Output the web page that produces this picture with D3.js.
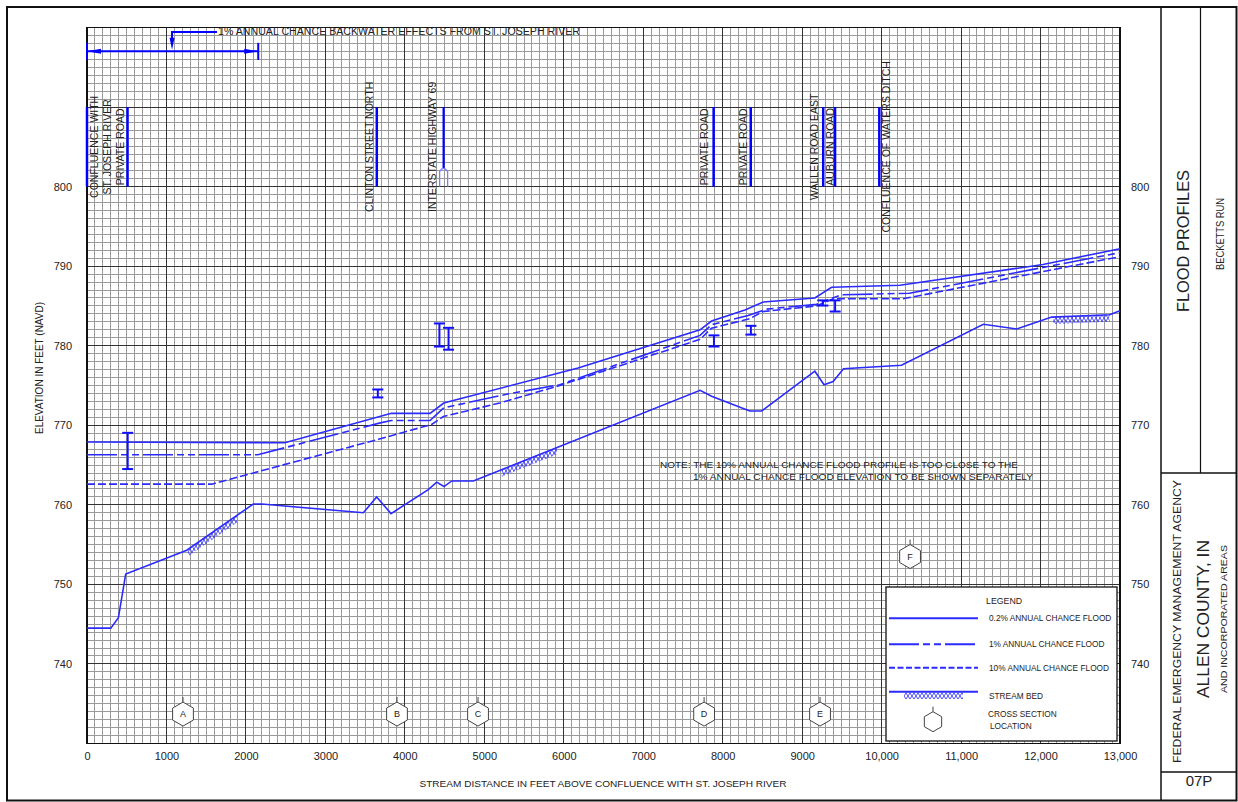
<!DOCTYPE html>
<html>
<head>
<meta charset="utf-8">
<script src="https://cdn.jsdelivr.net/npm/d3@7"></script>
<style>
  body { margin: 0; background: #fff; }
  text { font-family: "Liberation Sans", Arial, sans-serif; fill: #222; }
</style>
</head>
<body>
<div id="chart"></div>
<script>
// ---- data (distance in ft, elevation in ft NAVD) ----
const dist02 = [0, 2490, 3830, 4317, 4490, 6180, 7715, 7860, 8280, 8510, 9160, 9370, 10230, 12030, 13000]
const elev02 = [767.9, 767.8, 771.5, 771.5, 772.8, 777.2, 782.0, 783.1, 784.5, 785.5, 786.0, 787.35, 787.6, 790.2, 792.2]

const dist1 = [0, 2150, 3690, 3830, 4317, 4490, 5280, 5950, 7715, 7860, 8320, 8550, 9180, 9495, 10350, 13000]
const elev1 = [766.3, 766.3, 770.3, 770.6, 770.6, 772.2, 773.9, 775.1, 781.3, 782.65, 783.8, 784.6, 785.2, 786.4, 786.6, 791.7]

const dist10 = [0, 1570, 3690, 4337, 4485, 5195, 5950, 7715, 7860, 8340, 8510, 9180, 9390, 10270, 13000]
const elev10 = [762.6, 762.6, 768.3, 770.1, 771.1, 772.8, 775.0, 780.8, 782.2, 783.4, 784.3, 785.0, 785.9, 785.9, 791.2]

const distBed = [0, 300, 395, 487, 1255, 2093, 2200, 3478, 3645, 3826, 4295, 4401, 4493, 4590, 4862, 7715, 7860, 8340, 8490, 9160, 9275, 9390, 9520, 10250, 11280, 11700, 12140, 12870, 13000]
const elevBed = [744.5, 744.5, 745.8, 751.3, 754.3, 760.1, 760.1, 759.0, 761.0, 758.9, 761.9, 762.85, 762.3, 763.0, 763.0, 774.4, 773.65, 771.8, 771.8, 776.8, 775.1, 775.5, 777.1, 777.55, 782.7, 782.1, 783.6, 783.9, 784.4]

// stream bed hatching reaches
const hatchFrom = [1270, 5220, 12160]
const hatchTo = [1890, 5915, 12870]

// bridges / culverts (low chord & top of road)
const bridgeDist = [512, 3660, 4435, 4550, 7890, 8355, 9260, 9415]
const bridgeTop = [769.05, 774.5, 782.8, 782.25, 781.3, 782.5, 785.7, 785.7]
const bridgeLow = [764.5, 773.5, 779.9, 779.5, 779.9, 781.4, 785.05, 784.3]

// structures named along the top
const structDist = [0, 510, 3647, 4488, 7886, 8353, 9265, 9414, 9971]
const structLabels = [
    ["CONFLUENCE WITH", "ST. JOSEPH RIVER"],
    ["PRIVATE ROAD"],
    ["CLINTON STREET NORTH"],
    ["INTERSTATE HIGHWAY 69"],
    ["PRIVATE ROAD"],
    ["PRIVATE ROAD"],
    ["WALLEN ROAD EAST"],
    ["AUBURN ROAD"],
    ["CONFLUENCE OF WATERS DITCH"]
]

// cross sections
const xsLabels = ["A", "B", "C", "D", "E", "F"]
const xsDist = [1208, 3901, 4921, 7766, 9225, 10358]
const xsElev = [733.7, 733.7, 733.7, 733.7, 733.7, 753.5]

// backwater reach
const backwaterFrom = 0
const backwaterTo = 2155
const backwaterElev = 817.0
const backwaterLeaderDist = 1070
const backwaterLabelElev = 819.45
const backwaterLabel = "1% ANNUAL CHANCE BACKWATER EFFECTS FROM ST. JOSEPH RIVER"

// axes
const xTickVals = [0, 1000, 2000, 3000, 4000, 5000, 6000, 7000, 8000, 9000, 10000, 11000, 12000, 13000]
const xTickLabels = ["0", "1000", "2000", "3000", "4000", "5000", "6000", "7000", "8000", "9000", "10,000", "11,000", "12,000", "13,000"]
const yTickVals = [740, 750, 760, 770, 780, 790, 800]

const legendLabels = ["0.2% ANNUAL CHANCE FLOOD", "1% ANNUAL CHANCE FLOOD", "10% ANNUAL CHANCE FLOOD", "STREAM BED"]
const noteLines = ["NOTE: THE 10% ANNUAL CHANCE FLOOD PROFILE IS TOO CLOSE TO THE",
    "1% ANNUAL CHANCE FLOOD ELEVATION TO BE SHOWN SEPARATELY"]

// ---- layout ----
const w = 1238
const h = 802
const blue = "#2b2bff"

const x = d3.scaleLinear().domain([0, 13000]).range([87, 1120])
const y = d3.scaleLinear().domain([730, 820]).range([743.5, 27.5])

const svg = d3.select("#chart")
    .append("svg")
    .attr("width", w)
    .attr("height", h)

const defs = svg.append("defs")
defs.append("pattern")
    .attr("id", "hatch")
    .attr("patternUnits", "userSpaceOnUse")
    .attr("width", 4)
    .attr("height", 6)
    .append("path")
    .attr("d", "M0,0 L4,6 M4,0 L0,6")
    .attr("stroke", "#3838ff")
    .attr("stroke-width", 0.9)

// grid
const grid = svg.append("g").attr("shape-rendering", "crispEdges")
const vLines = d3.range(0, 13001, 100)
const hLines = d3.range(730, 821, 1)

grid.selectAll(".vminor")
    .data(vLines.filter(d => d % 1000 !== 0))
    .join("line")
    .attr("x1", d => x(d)).attr("x2", d => x(d))
    .attr("y1", y(820)).attr("y2", y(730))
    .attr("stroke", "#9a9a9a")
grid.selectAll(".hminor")
    .data(hLines.filter(d => d % 10 !== 0))
    .join("line")
    .attr("y1", d => y(d)).attr("y2", d => y(d))
    .attr("x1", x(0)).attr("x2", x(13000))
    .attr("stroke", "#9a9a9a")
grid.append("g").selectAll("line")
    .data(vLines.filter(d => d % 1000 === 0))
    .join("line")
    .attr("x1", d => x(d)).attr("x2", d => x(d))
    .attr("y1", y(820)).attr("y2", y(730))
    .attr("stroke", "#333")
grid.append("g").selectAll("line")
    .data(hLines.filter(d => d % 10 === 0))
    .join("line")
    .attr("y1", d => y(d)).attr("y2", d => y(d))
    .attr("x1", x(0)).attr("x2", x(13000))
    .attr("stroke", "#333")
grid.append("rect")
    .attr("x", x(0)).attr("y", y(820))
    .attr("width", x(13000) - x(0)).attr("height", y(730) - y(820))
    .attr("fill", "none").attr("stroke", "#111").attr("stroke-width", 1.3)

// axes labels
const axisFont = g => g.attr("font-family", null).attr("font-size", 11)
    .call(g => g.select(".domain").remove())
    .call(g => g.selectAll("text").attr("fill", "#222"))

svg.append("g")
    .attr("transform", "translate(" + x(0) + ",0)")
    .call(d3.axisLeft(y).tickValues(yTickVals).tickSize(0).tickPadding(15))
    .call(axisFont)
svg.append("g")
    .attr("transform", "translate(" + x(13000) + ",0)")
    .call(d3.axisRight(y).tickValues(yTickVals).tickSize(0).tickPadding(11))
    .call(axisFont)
svg.append("g")
    .attr("transform", "translate(0," + y(730) + ")")
    .call(d3.axisBottom(x).tickValues(xTickVals).tickFormat((d, i) => xTickLabels[i]).tickSize(0).tickPadding(9))
    .call(axisFont)

svg.append("text")
    .attr("transform", "translate(39,368) rotate(-90)")
    .attr("text-anchor", "middle")
    .attr("dominant-baseline", "central")
    .attr("font-size", 10)
    .text("ELEVATION IN FEET (NAVD)")
svg.append("text")
    .attr("x", 603).attr("y", 783)
    .attr("text-anchor", "middle")
    .attr("dominant-baseline", "central")
    .attr("font-size", 9.5)
    .attr("textLength", 367).attr("lengthAdjust", "spacingAndGlyphs")
    .text("STREAM DISTANCE IN FEET ABOVE CONFLUENCE WITH ST. JOSEPH RIVER")

// profiles
const line = d3.line().x(d => x(d[0])).y(d => y(d[1]))
const bed = d3.zip(distBed, elevBed)

hatchFrom.forEach((a, i) => {
    defs.append("clipPath").attr("id", "hc" + i)
        .append("rect")
        .attr("x", x(a)).attr("width", x(hatchTo[i]) - x(a))
        .attr("y", 0).attr("height", h)
    svg.append("path")
        .attr("d", d3.area().x(d => x(d[0])).y1(d => y(d[1])).y0(d => y(d[1]) + 7)(bed))
        .attr("fill", "url(#hatch)")
        .attr("clip-path", "url(#hc" + i + ")")
})

svg.append("path").attr("d", line(bed))
    .attr("fill", "none").attr("stroke", blue).attr("stroke-width", 1.6)
svg.append("path").attr("d", line(d3.zip(dist10, elev10)))
    .attr("fill", "none").attr("stroke", blue).attr("stroke-width", 1.6)
    .attr("stroke-dasharray", "8,3")
svg.append("path").attr("d", line(d3.zip(dist1, elev1)))
    .attr("fill", "none").attr("stroke", blue).attr("stroke-width", 1.6)
    .attr("stroke-dasharray", "30,4,7,4,7,4")
svg.append("path").attr("d", line(d3.zip(dist02, elev02)))
    .attr("fill", "none").attr("stroke", blue).attr("stroke-width", 1.6)

// bridges
const br = svg.append("g").attr("stroke", "#1010ff").attr("stroke-width", 2)
bridgeDist.forEach((d, i) => {
    const bx = x(d)
    br.append("line").attr("x1", bx).attr("x2", bx).attr("y1", y(bridgeTop[i])).attr("y2", y(bridgeLow[i]))
    br.append("line").attr("x1", bx - 5.5).attr("x2", bx + 5.5).attr("y1", y(bridgeTop[i])).attr("y2", y(bridgeTop[i]))
    br.append("line").attr("x1", bx - 5.5).attr("x2", bx + 5.5).attr("y1", y(bridgeLow[i])).attr("y2", y(bridgeLow[i]))
})

// structures
const labelDx = [[6.5, 19.5], [-8], [-7.5], [-12], [-10], [-8], [-9], [-5], [6.5]]
structDist.forEach((d, i) => {
    const sx = x(d)
    if (i === 3) {
        svg.append("line").attr("x1", sx).attr("x2", sx).attr("y1", y(810)).attr("y2", y(802.3))
            .attr("stroke", "#0000ff").attr("stroke-width", 2.2)
        svg.append("path")
            .attr("d", "M" + (sx - 4) + "," + y(800) + " V" + (y(802.3) + 3) +
                " Q" + sx + "," + (y(802.3) - 3) + " " + (sx + 4) + "," + (y(802.3) + 3) + " V" + y(800))
            .attr("fill", "none").attr("stroke", "#7b7bff").attr("stroke-width", 1.3)
    } else {
        svg.append("line").attr("x1", sx).attr("x2", sx).attr("y1", y(810)).attr("y2", y(800))
            .attr("stroke", "#0000ff").attr("stroke-width", 2.5)
    }
    structLabels[i].forEach((t, j) => {
        svg.append("text")
            .attr("transform", "translate(" + (sx + labelDx[i][j]) + "," + y(805) + ") rotate(-90)")
            .attr("text-anchor", "middle")
            .attr("dominant-baseline", "central")
            .attr("font-size", 10.5)
            .attr("fill", "#333")
            .text(t)
    })
})

// backwater annotation
const bw = svg.append("g").attr("stroke", "#0000ff").attr("fill", "#0000ff").attr("stroke-width", 2)
const bwY = y(backwaterElev)
bw.append("line").attr("x1", x(backwaterFrom)).attr("x2", x(backwaterTo)).attr("y1", bwY).attr("y2", bwY)
bw.append("line").attr("x1", x(backwaterFrom)).attr("x2", x(backwaterFrom)).attr("y1", bwY - 8.5).attr("y2", bwY + 8.5)
bw.append("line").attr("x1", x(backwaterTo)).attr("x2", x(backwaterTo)).attr("y1", bwY - 8.5).attr("y2", bwY + 8.5)
bw.append("path").attr("stroke", "none")
    .attr("d", "M" + x(backwaterFrom) + "," + bwY + " l14,-2.5 v5 z")
bw.append("path").attr("stroke", "none")
    .attr("d", "M" + x(backwaterTo) + "," + bwY + " l-14,-2.5 v5 z")
const lx = x(backwaterLeaderDist)
const ly = y(backwaterLabelElev)
bw.append("path").attr("fill", "none")
    .attr("d", "M" + (x(backwaterLeaderDist) + 45) + "," + ly + " H" + lx + " V" + (bwY - 10))
bw.append("path").attr("stroke", "none")
    .attr("d", "M" + lx + "," + (bwY - 1.5) + " l-2.5,-12 h5 z")
svg.append("text")
    .attr("x", lx + 46).attr("y", ly)
    .attr("dominant-baseline", "central")
    .attr("font-size", 10)
    .attr("fill", "#333")
    .attr("textLength", 362).attr("lengthAdjust", "spacingAndGlyphs")
    .text(backwaterLabel)

// note
noteLines.forEach((t, i) => {
    svg.append("text")
        .attr("x", i === 0 ? 660 : 693).attr("y", i === 0 ? 464.3 : 476.7)
        .attr("dominant-baseline", "central")
        .attr("font-size", 9.5)
        .attr("fill", "#333")
        .attr("textLength", i === 0 ? 358 : 340).attr("lengthAdjust", "spacingAndGlyphs")
        .text(t)
})

// cross section hexagons
const hex = (cx, cy, r) => d3.range(6).map(k => {
    const a = Math.PI / 3 * k - Math.PI / 2
    return [cx + r * Math.cos(a), cy + r * Math.sin(a)]
})
function xsMark(cx, cy, r, label) {
    svg.append("line").attr("x1", cx).attr("x2", cx).attr("y1", cy - r - 5).attr("y2", cy - r)
        .attr("stroke", "#444").attr("stroke-width", 1)
    svg.append("polygon").attr("points", hex(cx, cy, r).join(" "))
        .attr("fill", "#fff").attr("stroke", "#444").attr("stroke-width", 1)
    if (label) svg.append("text").attr("x", cx).attr("y", cy)
        .attr("text-anchor", "middle").attr("dominant-baseline", "central")
        .attr("font-size", 9).attr("fill", "#333").text(label)
}
xsDist.forEach((d, i) => xsMark(x(d), y(xsElev[i]), 12, xsLabels[i]))

// legend
const lg = svg.append("g")
lg.append("rect").attr("x", 886).attr("y", 587).attr("width", 231).attr("height", 154)
    .attr("fill", "#fff").attr("stroke", "#111").attr("stroke-width", 1.3)
lg.append("text").attr("x", 986).attr("y", 601).attr("dominant-baseline", "central")
    .attr("font-size", 8.8).text("LEGEND")
const lgY = [618.3, 644.3, 667.7, 691.7]
const lgDash = [null, "30,4,7,4,7,4", "6,2.5", null]
legendLabels.forEach((t, i) => {
    lg.append("line").attr("x1", 889).attr("x2", 978).attr("y1", lgY[i]).attr("y2", lgY[i])
        .attr("stroke", blue).attr("stroke-width", 2).attr("stroke-dasharray", lgDash[i])
    lg.append("text").attr("x", 989).attr("y", lgY[i] + (i === 3 ? 4 : 0)).attr("dominant-baseline", "central")
        .attr("font-size", 8.3).text(t)
})
lg.append("rect").attr("x", 904).attr("y", 692.5).attr("width", 59).attr("height", 6.5)
    .attr("fill", "url(#hatch)")
xsMark(933, 721.7, 10, null)
lg.append("text").attr("x", 988).attr("y", 714).attr("dominant-baseline", "central")
    .attr("font-size", 8.3).text("CROSS SECTION")
lg.append("text").attr("x", 990).attr("y", 726).attr("dominant-baseline", "central")
    .attr("font-size", 8.3).text("LOCATION")

// frame & title block
const frame = svg.append("g").attr("stroke", "#111").attr("fill", "none")
frame.append("rect").attr("x", 7).attr("y", 7).attr("width", 1229.5).attr("height", 793.5).attr("stroke-width", 2)
frame.append("line").attr("x1", 1161).attr("x2", 1161).attr("y1", 7).attr("y2", 801).attr("stroke-width", 1.5)
frame.append("line").attr("x1", 1200.5).attr("x2", 1200.5).attr("y1", 7).attr("y2", 473).attr("stroke-width", 1.2)
frame.append("line").attr("x1", 1161).attr("x2", 1237).attr("y1", 473).attr("y2", 473).attr("stroke-width", 1.5)
frame.append("line").attr("x1", 1161).attr("x2", 1237).attr("y1", 772).attr("y2", 772).attr("stroke-width", 1.5)

const vtext = (cx, cy, size, len, t) => svg.append("text")
    .attr("transform", "translate(" + cx + "," + cy + ") rotate(-90)")
    .attr("text-anchor", "middle").attr("dominant-baseline", "central")
    .attr("font-size", size)
    .attr("textLength", len).attr("lengthAdjust", "spacingAndGlyphs")
    .text(t)
vtext(1183, 241, 16, 142, "FLOOD PROFILES")
vtext(1220, 234, 11, 72, "BECKETTS RUN")
vtext(1177, 621.5, 11.5, 283, "FEDERAL EMERGENCY MANAGEMENT AGENCY")
vtext(1203.5, 619, 16, 158, "ALLEN COUNTY, IN")
vtext(1223.5, 619, 9.5, 148, "AND INCORPORATED AREAS")
svg.append("text").attr("x", 1199).attr("y", 786).attr("text-anchor", "middle")
    .attr("font-size", 15).text("07P")
</script>
</body>
</html>
